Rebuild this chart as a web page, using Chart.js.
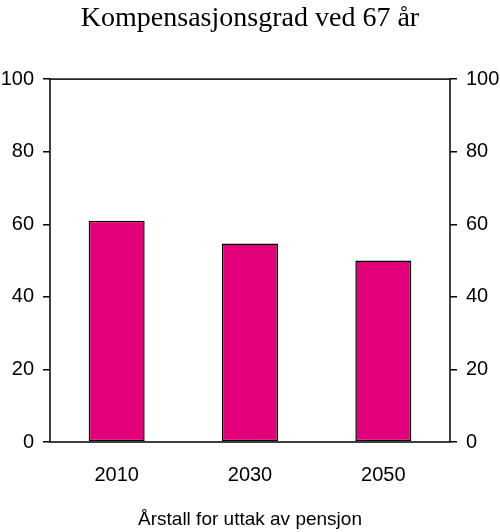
<!DOCTYPE html>
<html>
<head>
<meta charset="utf-8">
<script src="https://cdn.jsdelivr.net/npm/chart.js@4/dist/chart.umd.min.js"></script>
<style>
  html, body { margin: 0; padding: 0; background: #fff; }
  #wrap { width: 500px; height: 532px; }
</style>
</head>
<body>
<div id="wrap"><canvas id="kompChart"></canvas></div>
<script>
// data
const years = ['2010', '2030', '2050'];
const kompGrad = [61, 54.7, 50];
const yTicks = [0, 20, 40, 60, 80, 100];

// box round the plot area
const frame = {
    id: 'frame',
    afterDatasetsDraw(chart) {
        const a = chart.chartArea, c = chart.ctx;
        c.save();
        c.strokeStyle = '#000';
        c.lineWidth = 1.5;
        c.strokeRect(a.left, a.top, a.right - a.left, a.bottom - a.top);
        c.restore();
    }
};

function yAxis(pos) {
    return {
        position: pos,
        min: 0,
        max: 100,
        afterBuildTicks: s => { s.ticks = yTicks.map(v => ({ value: v })); },
        afterFit: s => { s.width = 50; },
        grid: { drawOnChartArea: false, drawTicks: true, tickLength: 7, color: '#000', lineWidth: 1.5 },
        border: { display: false },
        ticks: { color: '#000', padding: 9, font: { family: 'Liberation Sans, Arial', size: 20 } }
    };
}

const ctx = document.getElementById('kompChart').getContext('2d');
const kompChart = new Chart(ctx, {
    type: 'bar',
    data: {
        labels: years,
        datasets: [{
            data: kompGrad,
            backgroundColor: '#E2007A',
            borderColor: '#000',
            borderWidth: 1.5,
            borderSkipped: false,
            categoryPercentage: 1,
            barPercentage: 0.42
        }]
    },
    options: {
        animation: false,
        responsive: true,
        maintainAspectRatio: false,
        layout: { padding: 0 },
        plugins: {
            legend: { display: false },
            tooltip: { enabled: false },
            title: {
                display: true,
                text: 'Kompensasjonsgrad ved 67 år',
                color: '#000',
                font: { family: 'Liberation Serif, Times New Roman', size: 28, weight: 'normal' },
                padding: { top: 1.5, bottom: 44 }
            }
        },
        scales: {
            x: {
                afterFit: s => { s.height = 90; },
                grid: { display: false, drawTicks: false },
                border: { display: false },
                ticks: { color: '#000', padding: 21, font: { family: 'Liberation Sans, Arial', size: 20 } },
                title: {
                    display: true,
                    text: 'Årstall for uttak av pensjon',
                    color: '#000',
                    padding: { top: 20, bottom: 1 },
                    font: { family: 'Liberation Sans, Arial', size: 19 }
                }
            },
            y: yAxis('left'),
            y2: yAxis('right')
        }
    },
    plugins: [frame]
});
</script>
</body>
</html>
